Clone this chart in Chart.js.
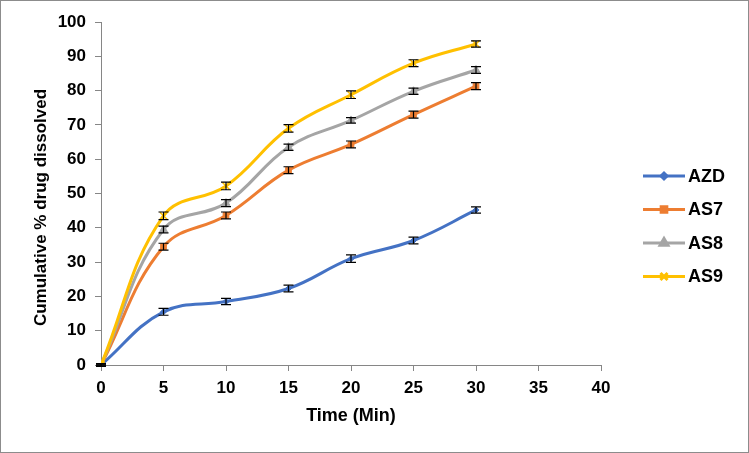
<!DOCTYPE html>
<html>
<head>
<meta charset="utf-8">
<script src="https://cdn.jsdelivr.net/npm/chart.js@4.4.0/dist/chart.umd.min.js"></script>
<style>
  body { margin: 0; background: #fff; }
  canvas { display: block; }
</style>
</head>
<body>
<canvas id="chart" width="749" height="453"></canvas>
<script>
// time points (min)
const times = [0, 5, 10, 15, 20, 25, 30];
const seriesNames = ['AZD', 'AS7', 'AS8', 'AS9'];

// cumulative % drug dissolved
const azd = [0, 15.5, 18.5, 22.3, 31.0, 36.3, 45.2];
const as7 = [0, 34.5, 43.6, 56.8, 64.3, 73.0, 81.3];
const as8 = [0, 39.5, 47.2, 63.5, 71.3, 79.8, 86.0];
const as9 = [0, 43.5, 52.2, 69.0, 78.8, 88.0, 93.6];

// error bar half widths
const azdErr = [0.3, 1, 0.9, 1, 1.1, 1, 0.9];
const as7Err = [0.3, 1, 1, 1, 1, 1, 1];
const as8Err = [0.3, 1, 1, 0.9, 0.8, 0.9, 1];
const as9Err = [0.3, 1.1, 1.1, 1.1, 1.1, 1, 0.9];

const yTicks = [0, 10, 20, 30, 40, 50, 60, 70, 80, 90, 100];
const xTicks = [0, 5, 10, 15, 20, 25, 30, 35, 40];
const yTitle = 'Cumulative % drug dissolved';

const axisColor = '#868686';
const font = 'Liberation Sans, Arial, sans-serif';

function toPoints(values) {
    return values.map((v, i) => ({ x: times[i], y: v }));
}

const styles = [
    { color: '#4472C4', point: 'rectRot', radius: 3 },
    { color: '#ED7D31', point: 'rect', radius: 4 },
    { color: '#A5A5A5', point: 'triangle', radius: 4.5 },
    { color: '#FFC000', point: 'crossRot', radius: 5 }
];
const values = [azd, as7, as8, as9];
const errors = [azdErr, as7Err, as8Err, as9Err];

const datasets = seriesNames.map((name, i) => ({
    label: name,
    data: toPoints(values[i]),
    errors: errors[i],
    borderColor: styles[i].color,
    backgroundColor: styles[i].color,
    pointStyle: styles[i].point,
    pointRadius: styles[i].radius,
    pointBorderWidth: i === 3 ? 1.5 : 1,
    borderWidth: 3,
    tension: 0.4,
    order: 4 - i
}));

// white background and grey frame
const framePlugin = {
    id: 'frame',
    beforeDraw(chart) {
        const ctx = chart.ctx;
        ctx.save();
        ctx.fillStyle = '#fff';
        ctx.fillRect(0, 0, chart.width, chart.height);
        ctx.strokeStyle = '#8c8c8c';
        ctx.lineWidth = 1;
        ctx.strokeRect(0.5, 0.5, chart.width - 1, chart.height - 1);
        ctx.restore();
    },
    afterDraw(chart) {
        // y axis title, sits a bit below the axis middle like the original
        const ctx = chart.ctx;
        const area = chart.chartArea;
        ctx.save();
        ctx.translate(41, (area.top + area.bottom) / 2 + 14);
        ctx.rotate(-Math.PI / 2);
        ctx.fillStyle = '#000';
        ctx.font = 'bold 17px ' + font;
        ctx.textAlign = 'center';
        ctx.textBaseline = 'middle';
        ctx.fillText(yTitle, 0, 0);
        ctx.restore();
    }
};

const errorBarPlugin = {
    id: 'errorBars',
    afterDatasetsDraw(chart) {
        const ctx = chart.ctx;
        const xs = chart.scales.x;
        const ys = chart.scales.y;
        ctx.save();
        ctx.strokeStyle = '#000';
        ctx.lineWidth = 1.2;
        chart.data.datasets.forEach(ds => {
            ds.data.forEach((p, i) => {
                const e = ds.errors[i];
                const px = xs.getPixelForValue(p.x);
                const top = ys.getPixelForValue(p.y + e);
                const bot = ys.getPixelForValue(p.y - e);
                ctx.beginPath();
                ctx.moveTo(px, top);
                ctx.lineTo(px, bot);
                ctx.moveTo(px - 5, top);
                ctx.lineTo(px + 5, top);
                ctx.moveTo(px - 5, bot);
                ctx.lineTo(px + 5, bot);
                ctx.stroke();
            });
        });
        ctx.restore();
    }
};

const legendPlugin = {
    id: 'sideLegend',
    afterDraw(chart) {
        const ctx = chart.ctx;
        const area = chart.chartArea;
        ctx.save();
        chart.data.datasets.forEach((ds, i) => {
            const y = area.top + 154 + i * 33.5;
            const x0 = area.right + 42;
            const x1 = area.right + 84;
            ctx.strokeStyle = ds.borderColor;
            ctx.lineWidth = 3;
            ctx.beginPath();
            ctx.moveTo(x0, y);
            ctx.lineTo(x1, y);
            ctx.stroke();
            ctx.fillStyle = ds.backgroundColor;
            Chart.helpers.drawPoint(ctx, {
                pointStyle: ds.pointStyle,
                radius: ds.pointRadius,
                borderWidth: ds.pointBorderWidth,
                rotation: 0
            }, (x0 + x1) / 2, y);
            ctx.fillStyle = '#000';
            ctx.font = 'bold 18px ' + font;
            ctx.textBaseline = 'middle';
            ctx.fillText(ds.label, x1 + 3, y + 1);
        });
        ctx.restore();
    }
};

new Chart(document.getElementById('chart'), {
    type: 'line',
    data: { datasets },
    plugins: [framePlugin, errorBarPlugin, legendPlugin],
    options: {
        responsive: false,
        animation: false,
        devicePixelRatio: 1,
        layout: { padding: { left: 0, right: 148, top: 22, bottom: 0 } },
        plugins: {
            legend: { display: false },
            tooltip: { enabled: false }
        },
        scales: {
            x: {
                type: 'linear',
                min: 0,
                max: 40,
                afterBuildTicks: s => { s.ticks = xTicks.map(v => ({ value: v })); },
                afterFit: s => { s.height = 88; },
                ticks: {
                    color: '#000',
                    padding: 7,
                    font: { family: font, size: 17, weight: 'bold' }
                },
                grid: { drawOnChartArea: false, color: axisColor, tickLength: 6 },
                border: { color: axisColor },
                title: {
                    display: true,
                    text: 'Time (Min)',
                    color: '#000',
                    padding: { top: 0, bottom: 26 },
                    font: { family: font, size: 18, weight: 'bold' }
                }
            },
            y: {
                min: 0,
                max: 100,
                afterBuildTicks: s => { s.ticks = yTicks.map(v => ({ value: v })); },
                afterFit: s => { s.width = 101; },
                ticks: {
                    color: '#000',
                    padding: 9,
                    font: { family: font, size: 17, weight: 'bold' }
                },
                grid: { drawOnChartArea: false, color: axisColor, tickLength: 6 },
                border: { color: axisColor },
                title: { display: false }
            }
        }
    }
});
</script>
</body>
</html>
